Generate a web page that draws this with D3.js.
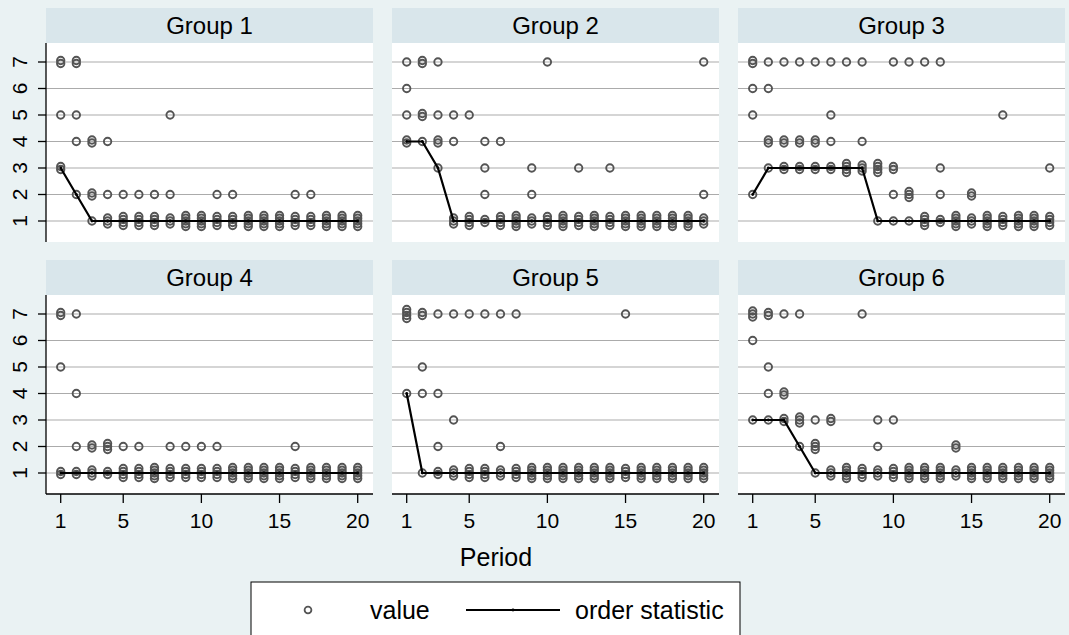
<!DOCTYPE html>
<html>
<head>
<meta charset="utf-8">
<script src="https://cdn.jsdelivr.net/npm/d3@7"></script>
<style>
  body { margin: 0; background: #eaf2f3; }
  svg { display: block; font-family: "Liberation Sans", Arial, sans-serif; }
</style>
</head>
<body>
<script>
// data ==================================================================
// each string = values of the five subjects in one period (periods 1..20)
var periods = d3.range(1, 21)
var xTicks = [1, 5, 10, 15, 20]
var yTicks = [1, 2, 3, 4, 5, 6, 7]
var groupNames = ["Group 1", "Group 2", "Group 3", "Group 4", "Group 5", "Group 6"]

var group1 = ["77533","77542","44221","42111","21111","21111","21111","52111","11111","11111",
              "21111","21111","11111","11111","11111","21111","21111","11111","11111","11111"]
var group2 = ["76544","77554","75443","54111","51111","43211","41111","11111","32111","71111",
              "11111","31111","11111","31111","11111","11111","11111","11111","11111","72111"]
var group3 = ["77652","76443","74433","74433","74433","75433","73333","74333","33331","73321",
              "72221","71111","73211","11111","22111","11111","51111","11111","11111","31111"]
var group4 = ["77511","74211","22111","22211","21111","21111","11111","21111","21111","21111",
              "21111","11111","11111","11111","11111","21111","11111","11111","11111","11111"]
var group5 = ["77774","77541","74211","73111","71111","71111","72111","71111","11111","11111",
              "11111","11111","11111","11111","71111","11111","11111","11111","11111","11111"]
var group6 = ["77763","77543","74433","73332","32221","33111","11111","71111","32111","31111",
              "11111","11111","11111","22111","11111","11111","11111","11111","11111","11111"]

var order1 = [3,2,1,1,1,1,1,1,1,1,1,1,1,1,1,1,1,1,1,1]
var order2 = [4,4,3,1,1,1,1,1,1,1,1,1,1,1,1,1,1,1,1,1]
var order3 = [2,3,3,3,3,3,3,3,1,1,1,1,1,1,1,1,1,1,1,1]
var order4 = [1,1,1,1,1,1,1,1,1,1,1,1,1,1,1,1,1,1,1,1]
var order5 = [4,1,1,1,1,1,1,1,1,1,1,1,1,1,1,1,1,1,1,1]
var order6 = [3,3,3,2,1,1,1,1,1,1,1,1,1,1,1,1,1,1,1,1]

var groupValues = [group1, group2, group3, group4, group5, group6]
var groupOrder = [order1, order2, order3, order4, order5, order6]

// layout ================================================================
var W = 1069, H = 635
var colX = [46, 392, 738]
var rowY = [8, 260]
var panelW = 327, headH = 35, plotH = 199

var color = {
  bg: "#eaf2f3",
  head: "#d9e6eb",
  grid: "#ababab",
  marker: "#545454",
  line: "#000000"
}

var x = d3.scaleLinear().domain([1, 20]).range([14.7, 311.7])
var y = d3.scaleLinear().domain([1, 7]).range([178, 19])

var svg = d3.select("body").append("svg")
  .attr("width", W).attr("height", H)

svg.append("rect").attr("width", W).attr("height", H).attr("fill", color.bg)

// turn the period strings into points, spreading tied values a little
function points(vals) {
  var out = []
  vals.forEach(function(s, i) {
    var counts = d3.rollup(s.split("").map(Number), function(v) { return v.length }, function(d) { return d })
    counts.forEach(function(n, v) {
      var step = n > 1 ? Math.min(3, 11 / (n - 1)) : 0
      for (var k = 0; k < n; k++) {
        out.push({ period: periods[i], value: v, off: (k - (n - 1) / 2) * step })
      }
    })
  })
  return out
}

groupNames.forEach(function(name, gi) {
  var col = gi % 3, row = Math.floor(gi / 3)
  var g = svg.append("g")
    .attr("transform", "translate(" + colX[col] + "," + rowY[row] + ")")

  // header
  g.append("rect").attr("width", panelW).attr("height", headH).attr("fill", color.head)
  g.append("text")
    .attr("x", panelW / 2).attr("y", 25.5)
    .attr("text-anchor", "middle")
    .attr("font-size", "24px")
    .attr("fill", "#000")
    .text(name)

  var p = g.append("g").attr("transform", "translate(0," + headH + ")")
  p.append("rect").attr("width", panelW).attr("height", plotH).attr("fill", "#fff")

  // gridlines
  p.selectAll(".grid").data(yTicks).enter().append("line")
    .attr("x1", 0).attr("x2", panelW)
    .attr("y1", function(d) { return y(d) }).attr("y2", function(d) { return y(d) })
    .attr("stroke", color.grid).attr("stroke-width", 1)

  // values
  p.selectAll(".pt").data(points(groupValues[gi])).enter().append("circle")
    .attr("cx", function(d) { return x(d.period) })
    .attr("cy", function(d) { return y(d.value) + d.off })
    .attr("r", 3.7)
    .attr("fill", "none")
    .attr("stroke", color.marker)
    .attr("stroke-width", 1.9)

  // order statistic
  var line = d3.line()
    .x(function(d, i) { return x(periods[i]) })
    .y(function(d) { return y(d) })
  p.append("path")
    .attr("d", line(groupOrder[gi]))
    .attr("fill", "none")
    .attr("stroke", color.line)
    .attr("stroke-width", 2.2)
  p.selectAll(".dot").data(groupOrder[gi]).enter().append("circle")
    .attr("cx", function(d, i) { return x(periods[i]) })
    .attr("cy", function(d) { return y(d) })
    .attr("r", 1.4)
    .attr("fill", color.line)

  // y axis on the left column
  if (col === 0) {
    var ya = p.append("g")
    ya.append("line").attr("x1", 0).attr("x2", 0).attr("y1", 0).attr("y2", plotH)
      .attr("stroke", "#000").attr("stroke-width", 1.3)
    ya.selectAll(".yt").data(yTicks).enter().append("line")
      .attr("x1", -8).attr("x2", 0)
      .attr("y1", function(d) { return y(d) }).attr("y2", function(d) { return y(d) })
      .attr("stroke", "#000").attr("stroke-width", 1.3)
    ya.selectAll(".yl").data(yTicks).enter().append("text")
      .attr("transform", function(d) { return "translate(-19," + y(d) + ") rotate(-90)" })
      .attr("text-anchor", "middle")
      .attr("font-size", "21px")
      .text(function(d) { return d })
  }

  // x axis on the bottom row
  if (row === 1) {
    var xa = p.append("g").attr("transform", "translate(0," + plotH + ")")
    xa.append("line").attr("x1", 0).attr("x2", panelW).attr("y1", 0).attr("y2", 0)
      .attr("stroke", "#000").attr("stroke-width", 1.3)
    xa.selectAll(".xt").data(xTicks).enter().append("line")
      .attr("x1", function(d) { return x(d) }).attr("x2", function(d) { return x(d) })
      .attr("y1", 0).attr("y2", 9)
      .attr("stroke", "#000").attr("stroke-width", 1.3)
    xa.selectAll(".xl").data(xTicks).enter().append("text")
      .attr("x", function(d) { return x(d) }).attr("y", 34)
      .attr("text-anchor", "middle")
      .attr("font-size", "21px")
      .text(function(d) { return d })
  }
})

// axis title
svg.append("text")
  .attr("x", 496).attr("y", 566)
  .attr("text-anchor", "middle")
  .attr("font-size", "25px")
  .text("Period")

// legend
var lg = svg.append("g")
lg.append("rect").attr("x", 251).attr("y", 582).attr("width", 489).attr("height", 70)
  .attr("fill", "#fff").attr("stroke", "#000").attr("stroke-width", 1)
lg.append("circle").attr("cx", 308).attr("cy", 610).attr("r", 3.4)
  .attr("fill", "none").attr("stroke", color.marker).attr("stroke-width", 1.8)
lg.append("text").attr("x", 370).attr("y", 619).attr("font-size", "25px").text("value")
lg.append("line").attr("x1", 466).attr("x2", 560).attr("y1", 610).attr("y2", 610)
  .attr("stroke", color.line).attr("stroke-width", 2.2)
lg.append("circle").attr("cx", 513).attr("cy", 610).attr("r", 1.4).attr("fill", color.line)
lg.append("text").attr("x", 575).attr("y", 619).attr("font-size", "25px").text("order statistic")
</script>
</body>
</html>
